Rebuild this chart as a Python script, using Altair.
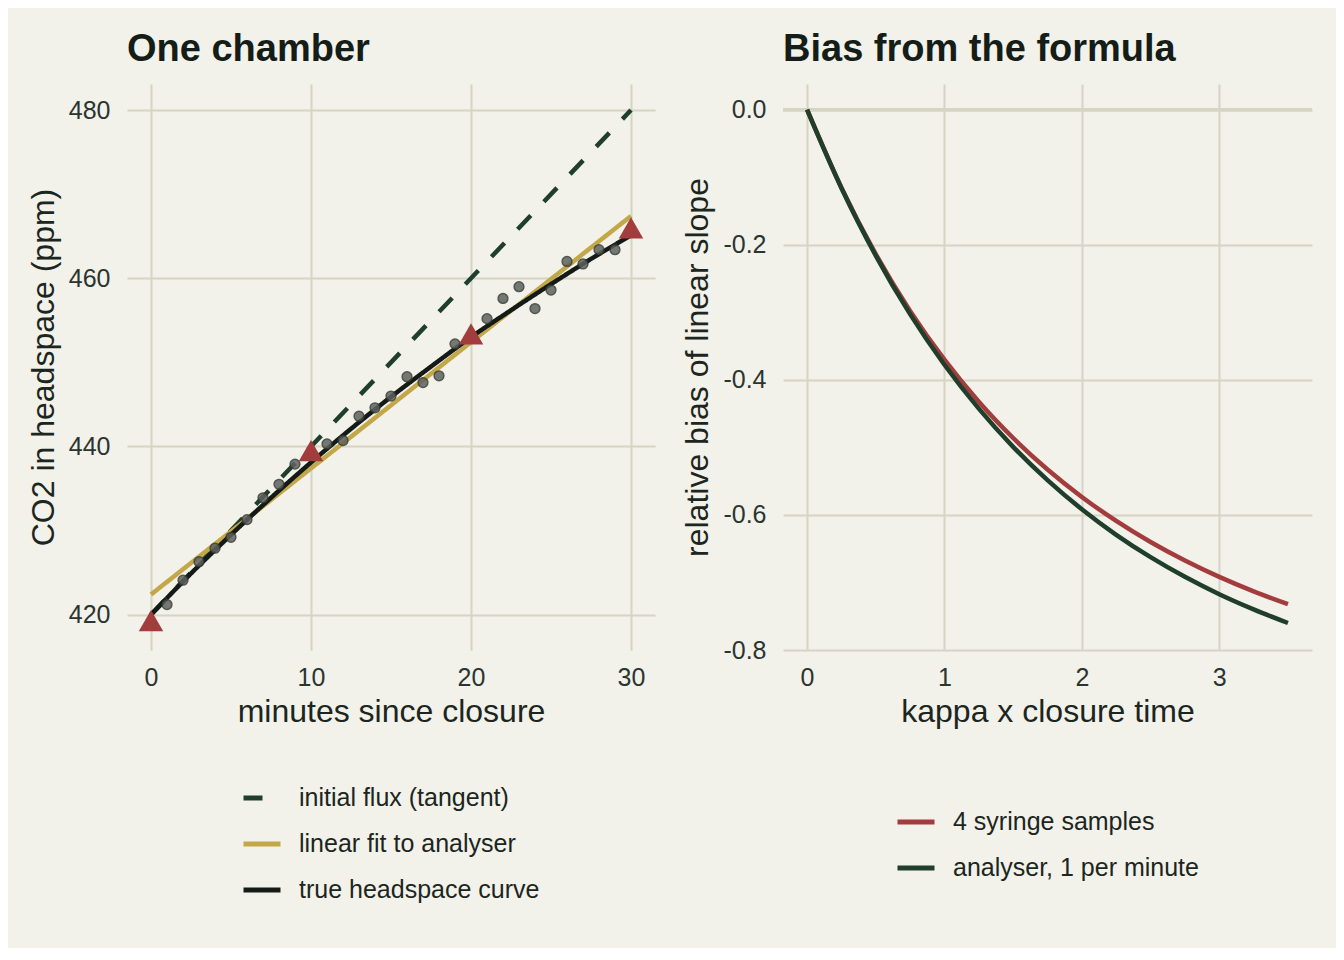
import altair as alt
import pandas as pd

# ---- left panel: one chamber ----
tangent_t = [0, 30]
tangent_co2 = [420.0, 480.0]
fit_t = [0, 30]
fit_co2 = [422.4, 467.4]
curve_t = [0, 2.5, 5, 7.5, 10, 12.5, 15, 17.5, 20, 22.5, 25, 27.5, 30]
curve_co2 = [420.0, 424.9, 429.5, 433.9, 438.1, 442.1, 445.9, 449.5, 453.0,
             456.2, 459.3, 462.3, 465.1]
analyser_t = [1, 2, 3, 4, 5, 6, 7, 8, 9, 11, 12, 13, 14, 15, 16, 17, 18, 19,
              21, 22, 23, 24, 25, 26, 27, 28, 29]
analyser_co2 = [421.2, 424.1, 426.3, 427.9, 429.2, 431.3, 433.9, 435.5, 437.9,
                440.3, 440.7, 443.6, 444.6, 446.0, 448.3, 447.6, 448.4, 452.2,
                455.2, 457.6, 459.0, 456.4, 458.6, 462.0, 461.7, 463.4, 463.4]
syringe_t = [0, 10, 20, 30]
syringe_co2 = [419.3, 439.5, 453.4, 466.0]

left_series = ["initial flux (tangent)", "linear fit to analyser", "true headspace curve"]
left_colors = ["#1f3f2b", "#c3a84a", "#141a16"]

# ---- right panel: bias from the formula ----
kappa = [0, 0.25, 0.5, 0.75, 1, 1.25, 1.5, 1.75, 2, 2.25, 2.5, 2.75, 3, 3.25, 3.5]
bias_syringe = [0, -0.1154, -0.2138, -0.2979, -0.3702, -0.4324, -0.4861, -0.5328,
                -0.5734, -0.6089, -0.6401, -0.6675, -0.6917, -0.7131, -0.7322]
bias_analyser = [0, -0.1160, -0.2160, -0.3027, -0.3776, -0.4426, -0.4992, -0.5485,
                 -0.5917, -0.6295, -0.6626, -0.6917, -0.7174, -0.7399, -0.7600]

right_series = ["4 syringe samples", "analyser, 1 per minute"]
right_colors = ["#a33d3d", "#1f3f2b"]

FONT = "Liberation Sans"
TXT = "#1c2620"
GRID = "#d6d4c2"


def line_df(t, v, name):
    return pd.DataFrame({"x": t, "y": v, "series": name})


left_x = alt.X("x:Q", title="minutes since closure",
               scale=alt.Scale(domain=[-1.5, 31.5], nice=False, zero=False),
               axis=alt.Axis(values=[0, 10, 20, 30]))
left_y = alt.Y("y:Q", title="CO2 in headspace (ppm)",
               scale=alt.Scale(domain=[415.8, 483.1], nice=False, zero=False),
               axis=alt.Axis(values=[420, 440, 460, 480]))
left_legend = alt.Legend(title=None, orient="none", direction="vertical",
                         legendX=114, legendY=693)
left_color = alt.Color("series:N",
                       scale=alt.Scale(domain=left_series, range=left_colors),
                       legend=left_legend)
left_dash = alt.StrokeDash("series:N",
                           scale=alt.Scale(domain=left_series,
                                           range=[[19, 19], [1, 0], [1, 0]]),
                           legend=left_legend)


def left_line(df, **kw):
    return alt.Chart(df).mark_line(strokeWidth=4.5, strokeCap="butt", **kw).encode(
        x=left_x, y=left_y, color=left_color, strokeDash=left_dash)


tangent = left_line(line_df(tangent_t, tangent_co2, left_series[0]))
fit = left_line(line_df(fit_t, fit_co2, left_series[1]))
curve = left_line(line_df(curve_t, curve_co2, left_series[2]), interpolate="monotone")

points = alt.Chart(pd.DataFrame({"x": analyser_t, "y": analyser_co2})).mark_point(
    filled=True, size=95, color="#5f625e", opacity=0.85, stroke="#363b36",
    strokeWidth=1.5).encode(x=left_x, y=left_y)
triangles = alt.Chart(pd.DataFrame({"x": syringe_t, "y": syringe_co2})).mark_point(
    shape="triangle-up", filled=True, size=600, color="#a33d3d", opacity=1).encode(
    x=left_x, y=left_y)

left = alt.layer(tangent, fit, curve, points, triangles).properties(
    width=528, height=566, title=alt.TitleParams("One chamber", frame="group"))

right_x = alt.X("x:Q", title="kappa x closure time",
                scale=alt.Scale(domain=[-0.175, 3.675], nice=False, zero=False),
                axis=alt.Axis(values=[0, 1, 2, 3]))
right_y = alt.Y("y:Q", title="relative bias of linear slope",
                scale=alt.Scale(domain=[-0.8, 0.038], nice=False, zero=False),
                axis=alt.Axis(values=[0, -0.2, -0.4, -0.6, -0.8],
                              labelExpr="replace(format(datum.value, '.1f'), '\u2212', '-')"))
right_color = alt.Color("series:N",
                        scale=alt.Scale(domain=right_series, range=right_colors),
                        legend=alt.Legend(title=None, orient="none", direction="vertical",
                                          legendX=112, legendY=717))

zero_rule = alt.Chart(pd.DataFrame({"y": [0]})).mark_rule(
    color=GRID, strokeWidth=3.5).encode(y=right_y)

syr = alt.Chart(line_df(kappa, bias_syringe, right_series[0])).mark_line(
    strokeWidth=4.5, interpolate="monotone").encode(x=right_x, y=right_y, color=right_color)
ana = alt.Chart(line_df(kappa, bias_analyser, right_series[1])).mark_line(
    strokeWidth=4.5, interpolate="monotone").encode(x=right_x, y=right_y, color=right_color)

right = alt.layer(zero_rule, syr, ana).properties(
    width=529, height=566, title=alt.TitleParams("Bias from the formula", frame="group"))

chart = alt.hconcat(left, right, spacing=26).resolve_scale(
    color="independent", strokeDash="independent"
).resolve_legend(color="independent", strokeDash="independent").properties(
    background="#f2f1ea",
    padding={"left": 19, "top": 23, "right": 22, "bottom": 45},
).configure_view(stroke=None).configure_axis(
    labelFont=FONT, titleFont=FONT, labelFontSize=25, titleFontSize=32,
    labelColor="#2b3530", titleColor=TXT, titleFontWeight="normal",
    grid=True, gridColor=GRID, gridWidth=2, domain=False, ticks=False,
    labelPadding=15,
).configure_axisX(titlePadding=6).configure_axisY(titlePadding=8, labelPadding=17).configure_title(
    font=FONT, fontSize=38, fontWeight="bold", color="#141d17", anchor="start",
    offset=15,
).configure_legend(
    labelFont=FONT, labelFontSize=25, labelColor=TXT, symbolType="stroke",
    symbolSize=1369, symbolStrokeWidth=5, rowPadding=12, labelOffset=16,
    labelLimit=400, padding=0,
)

chart.save("out.html", embed_options={"renderer": "svg", "actions": False})
